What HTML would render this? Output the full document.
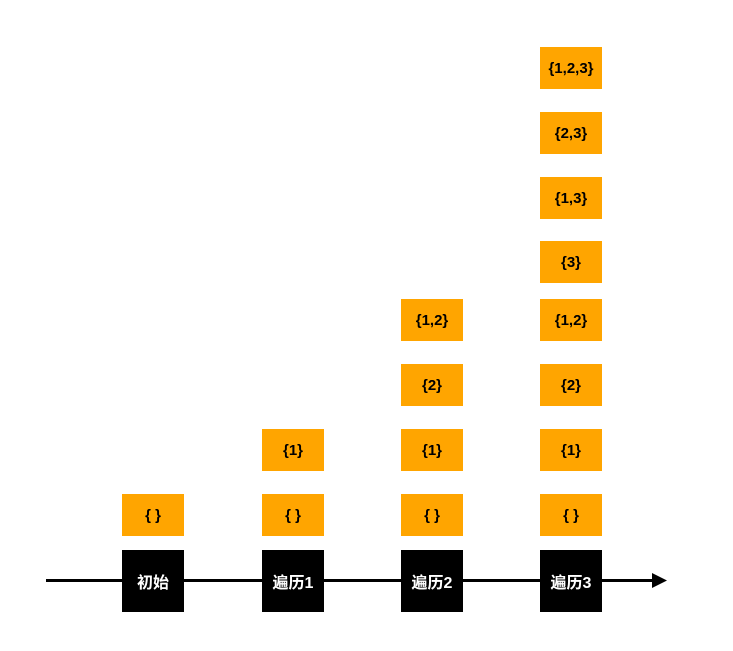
<!DOCTYPE html>
<html><head><meta charset="utf-8"><style>
body{margin:0;width:733px;height:651px;background:#fff;position:relative;overflow:hidden;font-family:"Liberation Sans","Noto Sans CJK SC",sans-serif}
.b{position:absolute;width:62px;height:42px;background:#ffa500;color:#000;font-size:15px;font-weight:bold;display:flex;align-items:center;justify-content:center}
.k{position:absolute;width:62px;height:62px;background:#000;color:#fff;font-size:16px;font-weight:bold;display:flex;align-items:center;justify-content:center;top:550px}
</style></head><body>
<svg width="733" height="651" style="position:absolute;left:0;top:0">
<line x1="46" y1="580.5" x2="654" y2="580.5" stroke="#000" stroke-width="3"/>
<polygon points="652,573 667,580.5 652,588" fill="#000"/>
</svg>
<div id="c"></div>
<script>
const steps=["初始","遍历1","遍历2","遍历3"];
const xs=[122,262,401,540];
const sets=[["{ }"],["{ }","{1}"],["{ }","{1}","{2}","{1,2}"],["{ }","{1}","{2}","{1,2}","{3}","{1,3}","{2,3}","{1,2,3}"]];
const tops=[494,429,364,299,241,177,112,47];
const c=document.getElementById('c');
steps.forEach((s,i)=>{
 const k=document.createElement('div');k.className='k';k.style.left=xs[i]+'px';k.textContent=s;
 
 
 c.appendChild(k);
 sets[i].forEach((t,j)=>{
  const b=document.createElement('div');b.className='b';b.style.left=xs[i]+'px';b.style.top=tops[j]+'px';b.textContent=t;
  
  
  c.appendChild(b);
 });
});
</script>
</body></html>
